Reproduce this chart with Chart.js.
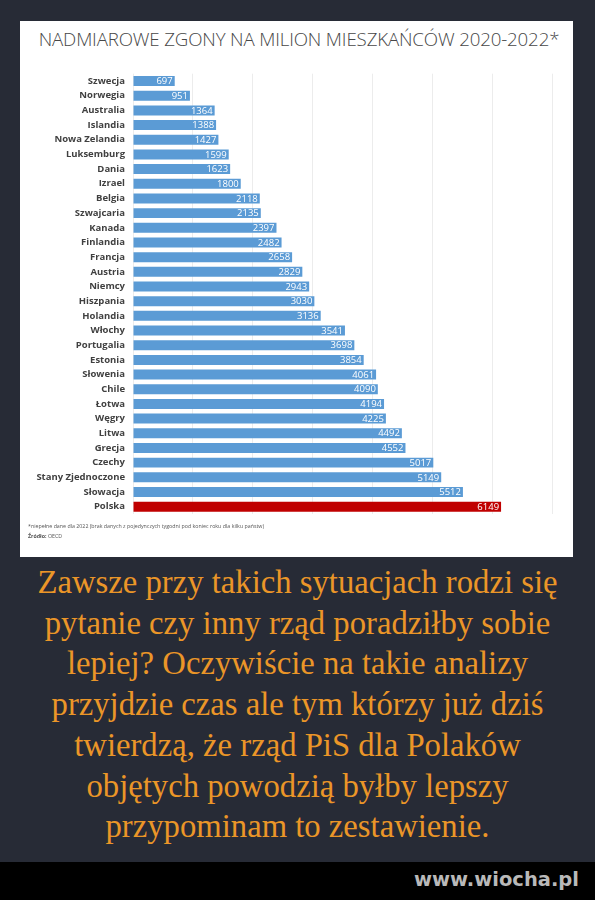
<!DOCTYPE html>
<html>
<head>
<meta charset="utf-8">
<script src="https://cdn.jsdelivr.net/npm/chart.js@4.4.1/dist/chart.umd.min.js"></script>
<style>
  html, body { margin:0; padding:0; }
  body { width:595px; height:900px; background:#272b36; position:relative; overflow:hidden; }
  #panel { position:absolute; left:20px; top:21px; width:553px; height:536px; background:#ffffff; }
  #title { position:absolute; left:20px; top:30px; width:558px; text-align:center; font-family:"Open Sans", sans-serif; font-weight:300; font-size:18.7px; line-height:18px; color:#474747; letter-spacing:-0.15px; white-space:nowrap; }
  #chartBox { position:absolute; left:20px; top:60px; width:553px; height:470px; }
  #note { position:absolute; left:28px; top:521px; font-family:"Open Sans", sans-serif; font-size:5.3px; line-height:10px; color:#555; white-space:nowrap; }
  #caption { position:absolute; left:0; top:562px; width:595px; text-align:center; font-family:"Liberation Serif", "Times New Roman", serif; font-size:32.7px; line-height:40.7px; color:#eb9628; }
  #band { position:absolute; left:0; top:862px; width:595px; height:38px; background:#000; }
  #wm { position:absolute; right:16px; top:866px; font-family:"DejaVu Sans", sans-serif; font-weight:bold; font-size:19.5px; line-height:28px; color:#b9b9b9; }
</style>
</head>
<body>
<div id="panel"></div>
<div id="title">NADMIAROWE ZGONY NA MILION MIESZKAŃCÓW 2020-2022*</div>
<div id="chartBox"><canvas id="c" width="553" height="470"></canvas></div>
<div id="note">*niepełne dane dla 2022 (brak danych z pojedynczych tygodni pod koniec roku dla kilku państw)<br><b>Źródło:</b> OECD</div>
<div id="caption">Zawsze przy takich sytuacjach rodzi się<br>pytanie czy inny rząd poradziłby sobie<br>lepiej? Oczywiście na takie analizy<br>przyjdzie czas ale tym którzy już dziś<br>twierdzą, że rząd PiS dla Polaków<br>objętych powodzią byłby lepszy<br>przypominam to zestawienie.</div>
<div id="band"></div>
<div id="wm">www.wiocha.pl</div>
<script>
const countries = ["Szwecja","Norwegia","Australia","Islandia","Nowa Zelandia","Luksemburg","Dania","Izrael","Belgia","Szwajcaria","Kanada","Finlandia","Francja","Austria","Niemcy","Hiszpania","Holandia","Włochy","Portugalia","Estonia","Słowenia","Chile","Łotwa","Węgry","Litwa","Grecja","Czechy","Stany Zjednoczone","Słowacja","Polska"];
const excessDeaths = [697,951,1364,1388,1427,1599,1623,1800,2118,2135,2397,2482,2658,2829,2943,3030,3136,3541,3698,3854,4061,4090,4194,4225,4492,4552,5017,5149,5512,6149];
const highlighted = "Polska";
const xTicks = [0,1000,2000,3000,4000,5000,6000,7000];

const barColors = countries.map(c => c === highlighted ? "#c00000" : "#5b9bd5");

const valueLabels = {
  id: "valueLabels",
  afterDatasetsDraw(chart) {
    const ctx = chart.ctx;
    const meta = chart.getDatasetMeta(0);
    ctx.save();
    ctx.font = '9.5px "Open Sans", sans-serif';
    ctx.fillStyle = "#ffffff";
    ctx.textAlign = "right";
    ctx.textBaseline = "middle";
    meta.data.forEach((bar, i) => {
      ctx.fillText(String(excessDeaths[i]), bar.x - 2, bar.y + 0.5);
    });
    ctx.restore();
  }
};

function draw() {
  new Chart(document.getElementById("c"), {
    type: "bar",
    data: {
      labels: countries,
      datasets: [{
        data: excessDeaths,
        backgroundColor: barColors,
        borderWidth: 0,
        barPercentage: 0.68,
        categoryPercentage: 1.0
      }]
    },
    options: {
      indexAxis: "y",
      responsive: false,
      animation: false,
      devicePixelRatio: 1,
      layout: { padding: { top: 11, right: 21, bottom: 16, left: 0 } },
      plugins: { legend: { display: false }, tooltip: { enabled: false }, title: { display: false } },
      scales: {
        x: {
          min: xTicks[0],
          max: xTicks[xTicks.length - 1],
          afterBuildTicks(scale) { scale.ticks = xTicks.map(v => ({ value: v })); },
          ticks: { display: false },
          grid: { color: "#ececec", drawTicks: false, lineWidth: 1 },
          border: { display: false },
          afterFit(scale) { scale.height = 0; }
        },
        y: {
          ticks: {
            color: "#404040",
            padding: 8,
            font: { family: "Open Sans", size: 9.5, weight: "bold" }
          },
          grid: { display: false, drawTicks: false },
          border: { display: false },
          afterFit(scale) { scale.width = 113; }
        }
      }
    },
    plugins: [valueLabels]
  });
}

Promise.all([
  document.fonts.load('bold 10px "Open Sans"'),
  document.fonts.load('10px "Open Sans"')
]).then(draw, draw);
</script>
</body>
</html>
